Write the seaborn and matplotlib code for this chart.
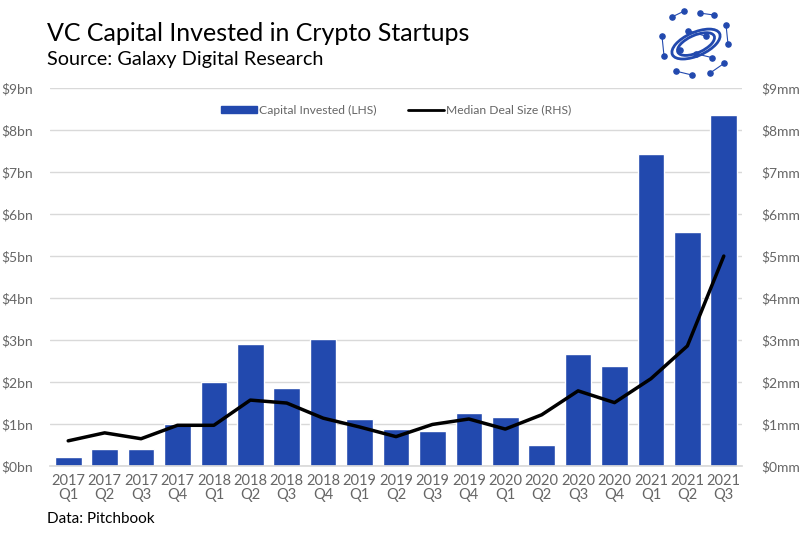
import numpy as np
import pandas as pd
import matplotlib
matplotlib.use("Agg")
import matplotlib.pyplot as plt
from matplotlib.patches import Patch, Ellipse
from matplotlib.lines import Line2D
import seaborn as sns

quarters = ["2017\nQ1", "2017\nQ2", "2017\nQ3", "2017\nQ4",
            "2018\nQ1", "2018\nQ2", "2018\nQ3", "2018\nQ4",
            "2019\nQ1", "2019\nQ2", "2019\nQ3", "2019\nQ4",
            "2020\nQ1", "2020\nQ2", "2020\nQ3", "2020\nQ4",
            "2021\nQ1", "2021\nQ2", "2021\nQ3"]
capital_bn = [0.22, 0.40, 0.40, 0.99, 2.00, 2.90, 1.86, 3.02,
              1.12, 0.88, 0.83, 1.27, 1.17, 0.50, 2.67, 2.38,
              7.44, 5.57, 8.36]
median_deal_mm = [0.60, 0.79, 0.65, 0.97, 0.97, 1.57, 1.50, 1.14,
                  0.93, 0.70, 0.99, 1.12, 0.88, 1.22, 1.79, 1.51,
                  2.08, 2.86, 5.00]
left_ticks = [f"${i}bn" for i in range(10)]
right_ticks = [f"${i}mm" for i in range(10)]

BLUE = "#2249AE"
GREY = "#666666"

sns.set_theme(style="white")
plt.rcParams["font.family"] = ["Lato", "DejaVu Sans"]

fig = plt.figure(figsize=(8, 5.34), dpi=100)
ax = fig.add_axes([0.0625, 0.1273, 0.865, 0.7077])

df = pd.DataFrame({"quarter": quarters, "capital": capital_bn, "deal": median_deal_mm})
sns.barplot(data=df, x="quarter", y="capital", color=BLUE, saturation=1,
            width=0.73, ax=ax)
ax.set_ylim(0, 9)
ax.set_yticks(range(10))
ax.set_yticklabels(left_ticks, color=GREY, fontsize=10)
ax.set_xlabel("")
ax.set_ylabel("")
ax.set_xlim(-0.5, len(quarters) - 0.5)
ax.tick_params(axis="x", colors=GREY, labelsize=10.5, length=0, pad=6)
ax.tick_params(axis="y", length=0, pad=12)
for lab in ax.get_xticklabels():
    lab.set_linespacing(1.0)
ax.yaxis.grid(True, color="#D9D9D9", linewidth=1)
ax.set_axisbelow(True)
for s in ["top", "right", "left"]:
    ax.spines[s].set_visible(False)
ax.spines["bottom"].set_color("#D9D9D9")

ax2 = ax.twinx()
sns.lineplot(x=np.arange(len(quarters)), y=median_deal_mm, color="black",
             linewidth=2.5, ax=ax2)
ax2.set_ylim(0, 9)
ax2.set_yticks(range(10))
ax2.set_yticklabels(right_ticks, color=GREY, fontsize=10)
ax2.tick_params(axis="y", length=0, pad=14)
for s in ["top", "right", "left", "bottom"]:
    ax2.spines[s].set_visible(False)
ax2.grid(False)

handles = [Patch(facecolor=BLUE, edgecolor=BLUE),
           Line2D([0], [0], color="black", linewidth=2)]
ax2.legend(handles, ["Capital Invested (LHS)", "Median Deal Size (RHS)"],
           loc="upper center", bbox_to_anchor=(0.5, 0.985), ncol=2, frameon=False,
           fontsize=8.7, handlelength=3.0, handleheight=0.45, columnspacing=2.6,
           handletextpad=0.15, labelcolor=GREY)

fig.text(0.059, 0.937, "VC Capital Invested in Crypto Startups", fontsize=18,
         color="black", va="center")
fig.text(0.059, 0.888, "Source: Galaxy Digital Research", fontsize=14.3,
         color="black", va="center")
fig.text(0.059, 0.029, "Data: Pitchbook", fontsize=11, color="black", va="center")

# simple logo approximation
lax = fig.add_axes([0.82, 0.845, 0.1, 0.145])
lax.set_xlim(-1, 1)
lax.set_ylim(-1, 1)
lax.axis("off")
for w, h, a in [(1.3, 0.6, 25), (1.0, 0.45, 25)]:
    lax.add_patch(Ellipse((0, 0), w, h, angle=a, fill=False, edgecolor=BLUE, lw=2))
pts = np.array([[-0.6, 0.7], [-0.3, 0.85], [0.1, 0.8], [0.45, 0.75], [0.75, 0.5],
                [0.8, 0.0], [0.7, -0.5], [0.35, -0.75], [-0.1, -0.8], [-0.5, -0.7],
                [-0.8, -0.3], [-0.85, 0.2], [-0.2, 0.35], [0.25, 0.2], [0.0, -0.25],
                [0.4, -0.35], [-0.4, -0.15]])
lax.scatter(pts[:, 0], pts[:, 1], s=14, color=BLUE, zorder=3)
for i in range(len(pts) - 1):
    if i % 2 == 0:
        lax.plot(pts[i:i + 2, 0], pts[i:i + 2, 1], color=BLUE, lw=0.8)

fig.savefig("out.png", dpi=100, facecolor="white")
